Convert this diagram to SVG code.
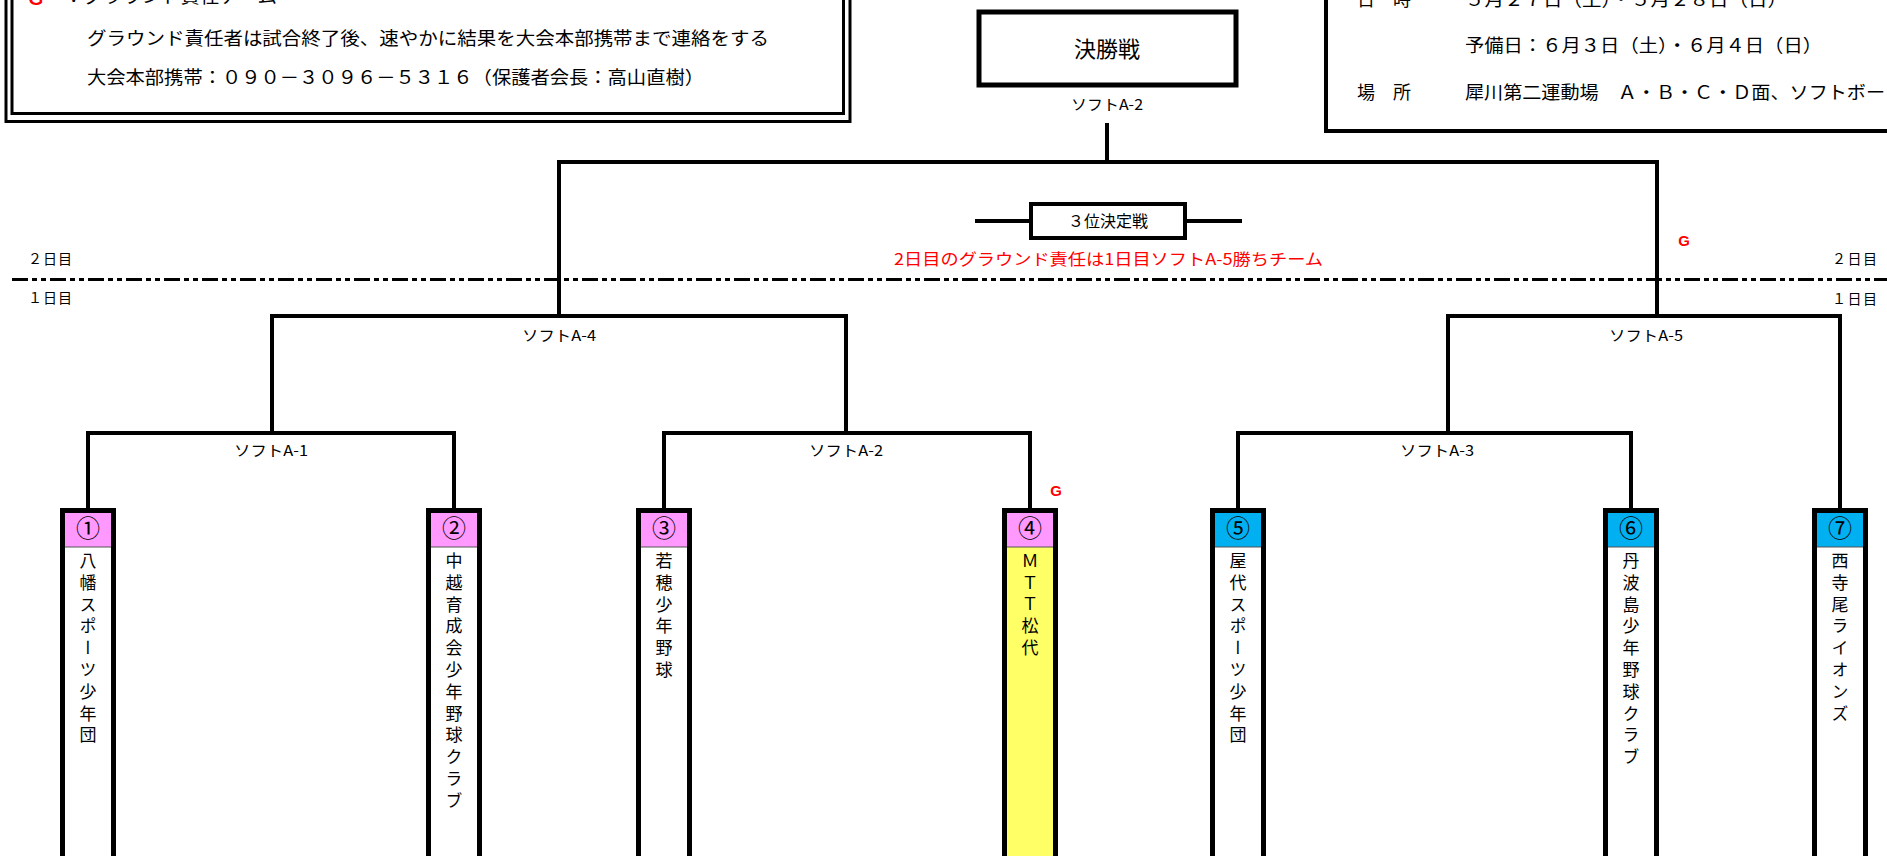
<svg xmlns="http://www.w3.org/2000/svg" width="1887" height="856" viewBox="0 0 1887 856">
<style>
.ln{stroke:#000;stroke-width:4;fill:none;stroke-linecap:square}
.t{font-family:"Noto Sans CJK JP","Noto Sans CJK SC",sans-serif;fill:#000}
.lbl{font-size:15px;text-anchor:middle}
.info{font-size:18px}
.red{fill:#FF0000}
.g{font-family:"Liberation Sans",Arial,sans-serif;font-weight:bold;fill:#FF0000;text-anchor:middle}
.box{stroke:#000;stroke-width:5;fill:#fff}
.num{font-size:24px;text-anchor:middle}
.name{font-size:17px;writing-mode:vertical-rl;text-orientation:upright;letter-spacing:4.8px}
</style>
<rect width="1887" height="856" fill="#fff"/>

<g id="legend-left">
<rect x="6" y="-10" width="844" height="131.5" fill="none" stroke="#000" stroke-width="3"/>
<rect x="12" y="-10" width="831.5" height="123.5" fill="none" stroke="#000" stroke-width="3"/>
<text class="g" x="36" y="5" font-size="19">G</text>
<text class="t info" x="64" y="3" textLength="213" lengthAdjust="spacingAndGlyphs">：グラウンド責任チーム</text>
<text class="t info" x="87" y="45" textLength="682" lengthAdjust="spacingAndGlyphs">グラウンド責任者は試合終了後、速やかに結果を大会本部携帯まで連絡をする</text>
<text class="t info" x="87" y="84" textLength="617" lengthAdjust="spacingAndGlyphs">大会本部携帯：０９０－３０９６－５３１６（保護者会長：高山直樹）</text>
</g>

<g id="legend-right">
<rect x="1326" y="-10" width="600" height="141" fill="none" stroke="#000" stroke-width="4"/>
<text class="t info" x="1357" y="6">日　時</text>
<text class="t info" x="1465" y="6" textLength="322" lengthAdjust="spacingAndGlyphs">５月２７日（土）・５月２８日（日）</text>
<text class="t info" x="1465" y="52" textLength="357" lengthAdjust="spacingAndGlyphs">予備日：６月３日（土）・６月４日（日）</text>
<text class="t info" x="1357" y="99">場　所</text>
<text class="t info" x="1465" y="99" textLength="420" lengthAdjust="spacingAndGlyphs">犀川第二運動場　Ａ・Ｂ・Ｃ・Ｄ面、ソフトボー</text>
</g>

<g id="final">
<rect x="979" y="12" width="257" height="73" fill="#fff" stroke="#000" stroke-width="5"/>
<text class="t" x="1107" y="57" font-size="22" text-anchor="middle">決勝戦</text>
<text class="t lbl" x="1107" y="110" textLength="72" lengthAdjust="spacingAndGlyphs">ソフトA-2</text>
</g>

<g id="third-place">
<rect x="1031" y="204" width="154" height="34" fill="#fff" stroke="#000" stroke-width="4"/>
<text class="t" x="1108" y="227" font-size="16" text-anchor="middle">３位決定戦</text>
</g>

<g id="day-labels">
<text class="t" x="28" y="264" font-size="14" textLength="44" lengthAdjust="spacing">２日目</text>
<text class="t" x="28" y="303" font-size="14" textLength="44" lengthAdjust="spacing">１日目</text>
<text class="t" x="1832" y="264" font-size="14" textLength="45" lengthAdjust="spacing">２日目</text>
<text class="t" x="1832" y="304" font-size="14" textLength="45" lengthAdjust="spacing">１日目</text>
<text class="t red" x="894" y="265" font-size="16" textLength="429" lengthAdjust="spacingAndGlyphs">2日目のグラウンド責任は1日目ソフトA-5勝ちチーム</text>
<text class="g" x="1684" y="246" font-size="15">G</text>
<text class="g" x="1056" y="496" font-size="15">G</text>
</g>

<g id="connectors">
<line x1="12" y1="279.5" x2="1887" y2="279.5" stroke="#000" stroke-width="3" stroke-dasharray="16 4 5 4 5 4"/>
<path class="ln" d="M1107 125V162M559 316V162H1657V316"/>
<path class="ln" d="M977 221H1031M1185 221H1240"/>
<path class="ln" d="M559 316H272V433M559 316H846V433"/>
<path class="ln" d="M272 433H88V508M272 433H454V508"/>
<path class="ln" d="M846 433H664V508M846 433H1030V508"/>
<path class="ln" d="M1657 316H1448V433M1657 316H1840V508"/>
<path class="ln" d="M1448 433H1238V508M1448 433H1631V508"/>
<text class="t lbl" x="559" y="341" textLength="74" lengthAdjust="spacingAndGlyphs">ソフトA-4</text>
<text class="t lbl" x="1646" y="341" textLength="74" lengthAdjust="spacingAndGlyphs">ソフトA-5</text>
<text class="t lbl" x="271" y="456" textLength="74" lengthAdjust="spacingAndGlyphs">ソフトA-1</text>
<text class="t lbl" x="846" y="456" textLength="74" lengthAdjust="spacingAndGlyphs">ソフトA-2</text>
<text class="t lbl" x="1437" y="456" textLength="74" lengthAdjust="spacingAndGlyphs">ソフトA-3</text>
</g>

<g id="team1">
<rect class="box" x="62.5" y="510.5" width="51" height="360"/>
<rect x="65" y="513" width="46" height="34" fill="#FF99FF"/>
<line x1="65" y1="547" x2="111" y2="547" stroke="#555" stroke-width="1"/>
<text class="t num" x="88" y="537">①</text>
<text class="t name" x="88" y="552">八幡スポーツ少年団</text>
</g>
<g id="team2">
<rect class="box" x="428.5" y="510.5" width="51" height="360"/>
<rect x="431" y="513" width="46" height="34" fill="#FF99FF"/>
<line x1="431" y1="547" x2="477" y2="547" stroke="#555" stroke-width="1"/>
<text class="t num" x="454" y="537">②</text>
<text class="t name" x="454" y="552">中越育成会少年野球クラブ</text>
</g>
<g id="team3">
<rect class="box" x="638.5" y="510.5" width="51" height="360"/>
<rect x="641" y="513" width="46" height="34" fill="#FF99FF"/>
<line x1="641" y1="547" x2="687" y2="547" stroke="#555" stroke-width="1"/>
<text class="t num" x="664" y="537">③</text>
<text class="t name" x="664" y="552">若穂少年野球</text>
</g>
<g id="team4">
<rect class="box" x="1004.5" y="510.5" width="51" height="360" style="fill:#FFFF66"/>
<rect x="1007" y="513" width="46" height="34" fill="#FF99FF"/>
<line x1="1007" y1="547" x2="1053" y2="547" stroke="#555" stroke-width="1"/>
<text class="t num" x="1030" y="537">④</text>
<text class="t name" x="1030" y="552">ＭＴＴ松代</text>
</g>
<g id="team5">
<rect class="box" x="1212.5" y="510.5" width="51" height="360"/>
<rect x="1215" y="513" width="46" height="34" fill="#00B0F0"/>
<line x1="1215" y1="547" x2="1261" y2="547" stroke="#555" stroke-width="1"/>
<text class="t num" x="1238" y="537">⑤</text>
<text class="t name" x="1238" y="552">屋代スポーツ少年団</text>
</g>
<g id="team6">
<rect class="box" x="1605.5" y="510.5" width="51" height="360"/>
<rect x="1608" y="513" width="46" height="34" fill="#00B0F0"/>
<line x1="1608" y1="547" x2="1654" y2="547" stroke="#555" stroke-width="1"/>
<text class="t num" x="1631" y="537">⑥</text>
<text class="t name" x="1631" y="552">丹波島少年野球クラブ</text>
</g>
<g id="team7">
<rect class="box" x="1814.5" y="510.5" width="51" height="360"/>
<rect x="1817" y="513" width="46" height="34" fill="#00B0F0"/>
<line x1="1817" y1="547" x2="1863" y2="547" stroke="#555" stroke-width="1"/>
<text class="t num" x="1840" y="537">⑦</text>
<text class="t name" x="1840" y="552">西寺尾ライオンズ</text>
</g>
</svg>
